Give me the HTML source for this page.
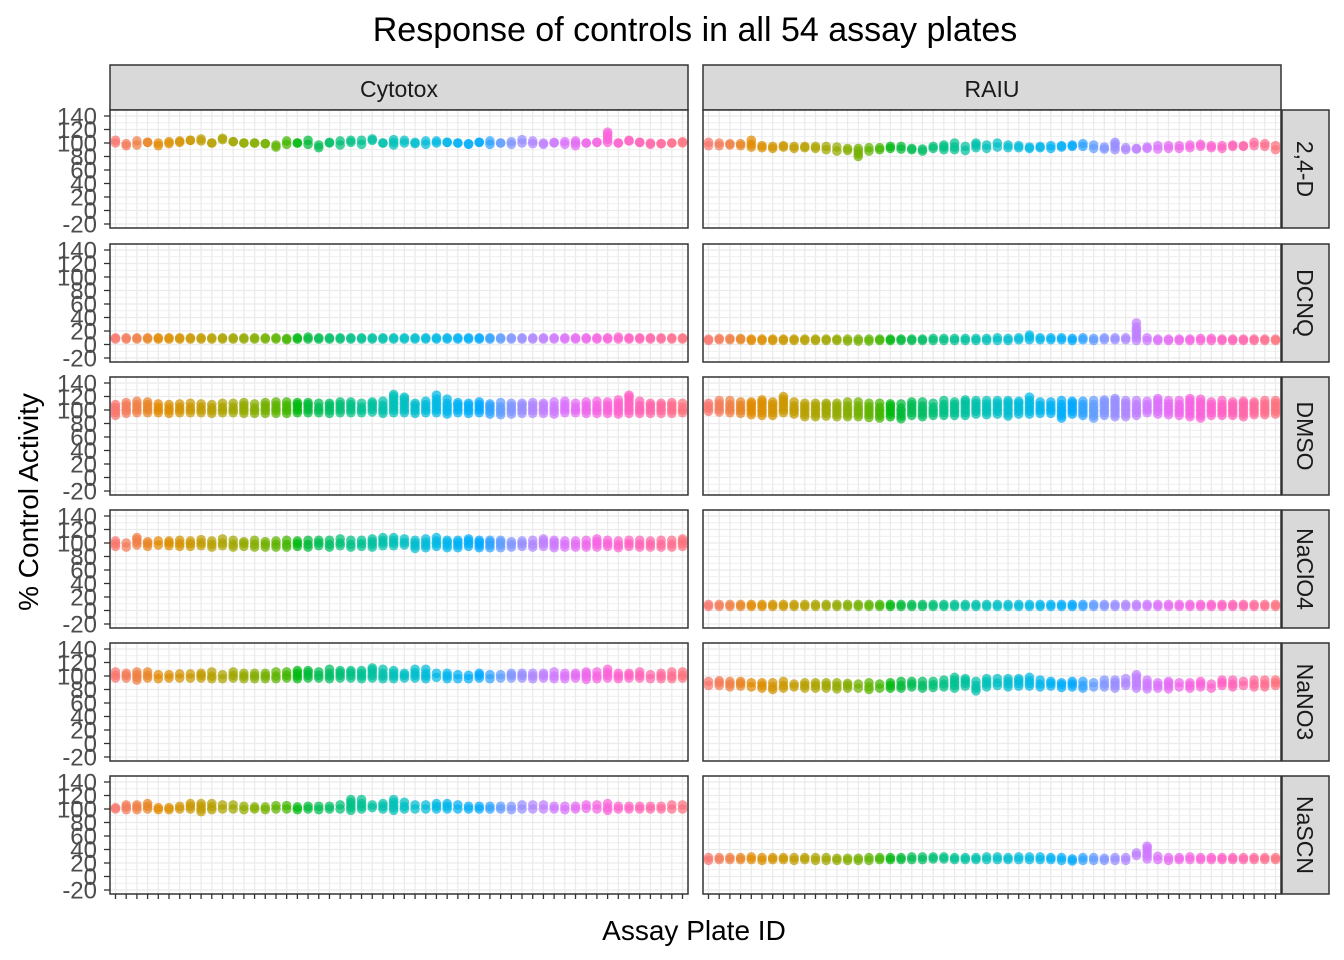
<!DOCTYPE html>
<html><head><meta charset="utf-8"><style>
body{margin:0;background:#fff}
svg{display:block;font-family:"Liberation Sans",sans-serif}
</style></head><body>
<svg id="c" width="1344" height="960" xmlns="http://www.w3.org/2000/svg">
<text x="695" y="41" font-size="34" text-anchor="middle">Response of controls in all 54 assay plates</text>
<text x="694" y="940" font-size="28" text-anchor="middle">Assay Plate ID</text>
<text transform="translate(38,502) rotate(-90)" font-size="28" text-anchor="middle">% Control Activity</text>
</svg>
<script>
const columns=["Cytotox","RAIU"];
const rows=["2,4-D","DCNQ","DMSO","NaClO4","NaNO3","NaSCN"];
const yTicks=[140,120,100,80,60,40,20,0,-20];
const c24lo=[100,96,97,101,96,99,101,104,103,100,105,102,100,100,99,94,98,100,98,93,100,97,101,98,104,100,97,100,99,98,100,101,100,98,101,98,100,98,100,99,98,100,98,96,100,101,101,100,103,101,98,99,100,100];
const c24hi=[104,99,103,101,100,102,103,104,106,100,107,102,100,100,99,97,103,100,104,97,101,103,104,104,106,100,105,104,101,103,103,101,100,99,101,103,100,102,105,103,100,101,102,103,100,101,116,100,104,101,100,99,100,102];
const r24lo=[96,96,97,96,94,93,92,94,92,93,92,90,88,89,80,88,90,92,91,90,88,92,90,90,89,93,92,94,93,93,92,93,92,94,95,95,92,91,90,90,91,92,91,92,92,93,95,93,92,95,95,96,95,90];
const r24hi=[101,100,99,99,104,96,95,96,95,95,95,95,94,92,92,93,93,95,95,92,91,95,97,100,95,100,97,100,97,96,94,95,96,96,97,99,97,94,101,93,92,94,96,96,96,97,98,96,96,97,96,101,99,96];
const cdlo=[8,8,8,8,8,8,8,8,8,8,8,8,8,8,8,8,7,8,8,8,8,8,8,8,8,8,8,8,8,8,8,8,8,8,8,8,8,8,8,8,8,8,8,8,8,8,8,8,8,8,8,8,8,8];
const cdhi=[10,10,10,10,10,10,10,10,10,10,10,10,10,10,10,10,9,10,11,10,10,10,10,10,10,10,10,10,10,10,10,10,10,10,10,10,10,10,10,10,10,10,10,10,10,10,10,11,10,10,10,10,10,10];
const rdlo=[6,7,7,7,6,6,6,6,6,6,6,6,6,5,5,5,6,6,6,6,6,6,6,6,6,6,6,6,6,7,7,7,7,7,6,7,6,7,7,7,6,6,6,6,6,6,6,6,6,6,6,6,6,6];
const rdhi=[8,9,9,9,8,8,8,8,8,8,8,8,8,8,8,8,8,8,8,8,8,9,9,9,9,9,9,10,9,10,14,10,10,10,9,10,9,10,10,10,32,10,8,8,8,8,9,9,8,8,8,8,8,8];
const cmlo=[92,95,96,96,96,95,96,96,96,95,96,96,95,95,95,95,95,96,96,96,95,96,96,96,97,95,96,96,95,96,96,94,96,95,96,94,93,94,95,95,95,94,96,96,95,95,95,94,95,95,95,95,95,96];
const cmhi=[108,111,113,112,109,108,109,110,109,108,110,110,111,109,111,112,112,111,111,110,110,112,112,110,112,113,123,119,110,113,122,116,111,110,112,109,111,110,110,111,110,112,113,110,112,113,112,115,122,113,110,110,111,110];
const rmlo=[98,97,96,95,93,92,92,96,94,90,90,91,90,90,90,89,88,90,87,92,90,92,92,92,92,94,93,94,91,94,94,95,95,88,94,92,88,92,90,90,92,96,94,93,92,90,88,92,92,92,90,93,93,94];
const rmhi=[110,114,114,112,112,115,112,120,112,110,110,110,110,112,112,110,110,109,109,112,112,110,114,112,115,114,114,114,114,113,119,112,112,114,113,113,114,115,117,114,114,113,117,114,114,117,116,112,114,112,113,112,114,114];
const cnlo=[95,94,97,95,97,96,95,95,96,94,96,94,95,94,94,94,94,95,94,96,94,96,94,95,94,96,96,97,92,93,95,93,93,95,93,93,93,94,95,94,95,93,94,94,94,94,95,93,95,94,94,94,94,95];
const cnhi=[103,100,108,102,103,103,104,103,105,103,106,104,102,104,102,103,104,103,104,104,104,106,104,104,106,108,108,106,104,106,108,104,104,106,104,104,104,102,103,104,106,104,103,103,104,106,104,103,104,104,103,104,104,106];
const rclo=[6,6,6,6,6,6,6,6,6,6,6,6,6,6,6,6,6,6,6,6,6,6,6,6,6,6,6,6,6,6,6,6,6,6,6,6,6,6,6,6,6,6,6,6,6,6,6,6,6,6,6,6,6,6];
const rchi=[9,9,9,9,9,9,9,9,9,9,9,9,9,9,9,9,9,9,9,9,9,9,9,9,9,9,9,9,9,9,9,9,9,9,9,9,9,9,9,9,9,9,9,9,9,9,9,9,9,9,9,9,9,9];
const cnolo=[97,97,94,97,96,97,97,97,97,96,96,97,96,96,96,96,97,96,97,97,96,97,97,96,97,96,96,97,97,96,98,96,96,96,97,96,97,97,97,96,97,96,96,97,95,96,97,96,97,97,96,96,96,97];
const cnohi=[106,104,106,106,102,102,103,103,104,106,102,106,104,104,104,106,106,108,108,106,110,108,108,108,112,110,108,104,110,110,104,104,102,101,104,102,102,104,104,104,104,106,104,104,106,106,110,104,104,106,102,104,106,106];
const rnolo=[86,86,84,85,84,82,80,82,84,82,82,82,81,82,82,80,82,82,82,84,82,83,84,82,85,78,84,86,84,85,85,84,85,83,84,82,84,84,82,86,82,81,82,81,84,82,84,82,86,84,86,84,84,86];
const rnohi=[92,93,92,92,90,90,90,92,88,90,90,90,90,89,88,90,88,90,92,92,92,92,94,98,96,92,96,96,96,96,98,94,92,90,92,92,90,94,94,96,102,94,90,92,90,90,92,88,94,94,92,94,94,94];
const cslo=[100,99,99,100,99,99,100,100,96,99,100,100,99,100,99,100,100,99,100,99,100,100,98,100,102,100,98,100,100,100,100,100,100,100,100,100,100,99,100,100,100,100,99,100,101,100,98,100,100,100,100,100,100,100];
const cshi=[102,106,106,108,102,102,104,108,108,108,106,106,104,103,103,105,105,103,104,104,104,106,114,114,106,108,114,110,106,106,108,108,106,104,104,104,104,104,106,106,106,104,104,104,106,106,108,104,104,104,104,104,106,106];
const rslo=[24,25,25,25,25,24,25,25,24,25,24,24,24,24,24,24,25,25,25,25,25,26,26,25,25,25,25,25,25,25,25,25,25,24,23,24,24,24,24,24,31,26,25,24,25,25,25,25,25,25,25,25,25,25];
const rshi=[28,28,28,28,29,28,28,28,28,28,28,28,27,27,27,28,28,28,28,29,29,29,29,28,28,28,29,29,28,29,29,29,28,28,26,28,28,27,28,28,35,45,30,28,28,29,28,28,28,28,28,28,28,28];
const lows=[[c24lo,r24lo],[cdlo,rdlo],[cmlo,rmlo],[cnlo,rclo],[cnolo,rnolo],[cslo,rslo]];
const highs=[[c24hi,r24hi],[cdhi,rdhi],[cmhi,rmhi],[cnhi,rchi],[cnohi,rnohi],[cshi,rshi]];

const NS="http://www.w3.org/2000/svg";
const svg=document.getElementById('c');
function mk(t,a,p){const e=document.createElementNS(NS,t);for(const k in a)e.setAttribute(k,a[k]);(p||svg).appendChild(e);return e;}
const colL=[110,703],panelW=578,rowT=[110,244,377,510,643,776],panelH=118;
const N=54;
function xs(c,i){return colL[c]+5.5+i*(panelW-11)/(N-1);}
function ys(r,v){return rowT[r]+6+(140-v)*(108/160);}
function hcl(h,c,l){
  const hr=h*Math.PI/180,U=c*Math.cos(hr),V=c*Math.sin(hr);
  const Xn=95.047,Yn=100,Zn=108.883;
  const un=4*Xn/(Xn+15*Yn+3*Zn),vn=9*Yn/(Xn+15*Yn+3*Zn);
  const Y=l>8?Yn*Math.pow((l+16)/116,3):Yn*l/903.3;
  const u=U/(13*l)+un,v=V/(13*l)+vn;
  const X=9*Y*u/(4*v),Z=-X/3-5*Y+3*Y/v;
  const x=X/100,y=Y/100,z=Z/100;
  let rgb=[3.240479*x-1.53715*y-0.498535*z,-0.969256*x+1.875992*y+0.041556*z,0.055648*x-0.204043*y+1.057311*z];
  rgb=rgb.map(t=>{t=t>0.0031308?1.055*Math.pow(t,1/2.4)-0.055:12.92*t;return Math.round(255*Math.min(1,Math.max(0,t)));});
  return `rgb(${rgb[0]},${rgb[1]},${rgb[2]})`;
}
function hue(i){return hcl((15+360*i/N)%360,100,65);}
columns.forEach((cn,c)=>{
  const g=mk('g',{});
  
  
  mk('rect',{x:colL[c],y:65,width:panelW,height:45,fill:'#d9d9d9',stroke:'#333','stroke-width':1.5},g);
  const t=mk('text',{x:colL[c]+panelW/2,y:97,'font-size':23,'text-anchor':'middle',fill:'#1a1a1a'},g);t.textContent=cn;
});
rows.forEach((rn,r)=>{
  const g=mk('g',{});
  
  
  mk('rect',{x:1282,y:rowT[r],width:47,height:panelH,fill:'#d9d9d9',stroke:'#333','stroke-width':1.5},g);
  const t=mk('text',{transform:`translate(1297,${rowT[r]+panelH/2}) rotate(90)`,'font-size':23,'text-anchor':'middle',fill:'#1a1a1a'},g);t.textContent=rn;
  yTicks.forEach(v=>{
    const y=ys(r,v);
    mk('line',{x1:104,x2:110,y1:y,y2:y,stroke:'#333','stroke-width':1.3});
    const tt=mk('text',{x:97,y:y+8.5,'font-size':24,'text-anchor':'end',fill:'#4d4d4d'});
    
    
    tt.textContent=v;
  });
  columns.forEach((cn,c)=>{
    const p=mk('g',{});
    
    
    mk('rect',{x:colL[c],y:rowT[r],width:panelW,height:panelH,fill:'#fff'},p);
    for(let v=-20;v<=140;v+=10){const y=ys(r,v);mk('line',{x1:colL[c],x2:colL[c]+panelW,y1:y,y2:y,stroke:'#ebebeb','stroke-width':v%20==0?1.3:0.7},p);}
    for(let i=0;i<N;i++){const x=xs(c,i);mk('line',{x1:x,x2:x,y1:rowT[r],y2:rowT[r]+panelH,stroke:'#ebebeb','stroke-width':1.3},p);}
    const lo=lows[r][c],hi=highs[r][c];
    for(let i=0;i<N;i++){
      const vals=[lo[i],hi[i]];
      for(let v=lo[i]+4;v<hi[i]-2;v+=4)vals.push(v);
      vals.forEach(v=>{
        const d=mk('circle',{cx:xs(c,i),cy:ys(r,v),r:4.8,fill:hue(i),'fill-opacity':0.72},p);
        
        
      });
    }
    mk('rect',{x:colL[c],y:rowT[r],width:panelW,height:panelH,fill:'none',stroke:'#333','stroke-width':1.5},p);
    if(r==5){for(let i=0;i<N;i++){const x=xs(c,i);mk('line',{x1:x,x2:x,y1:rowT[r]+panelH,y2:rowT[r]+panelH+5,stroke:'#333','stroke-width':1.3});}}
  });
});
</script>
</body></html>
